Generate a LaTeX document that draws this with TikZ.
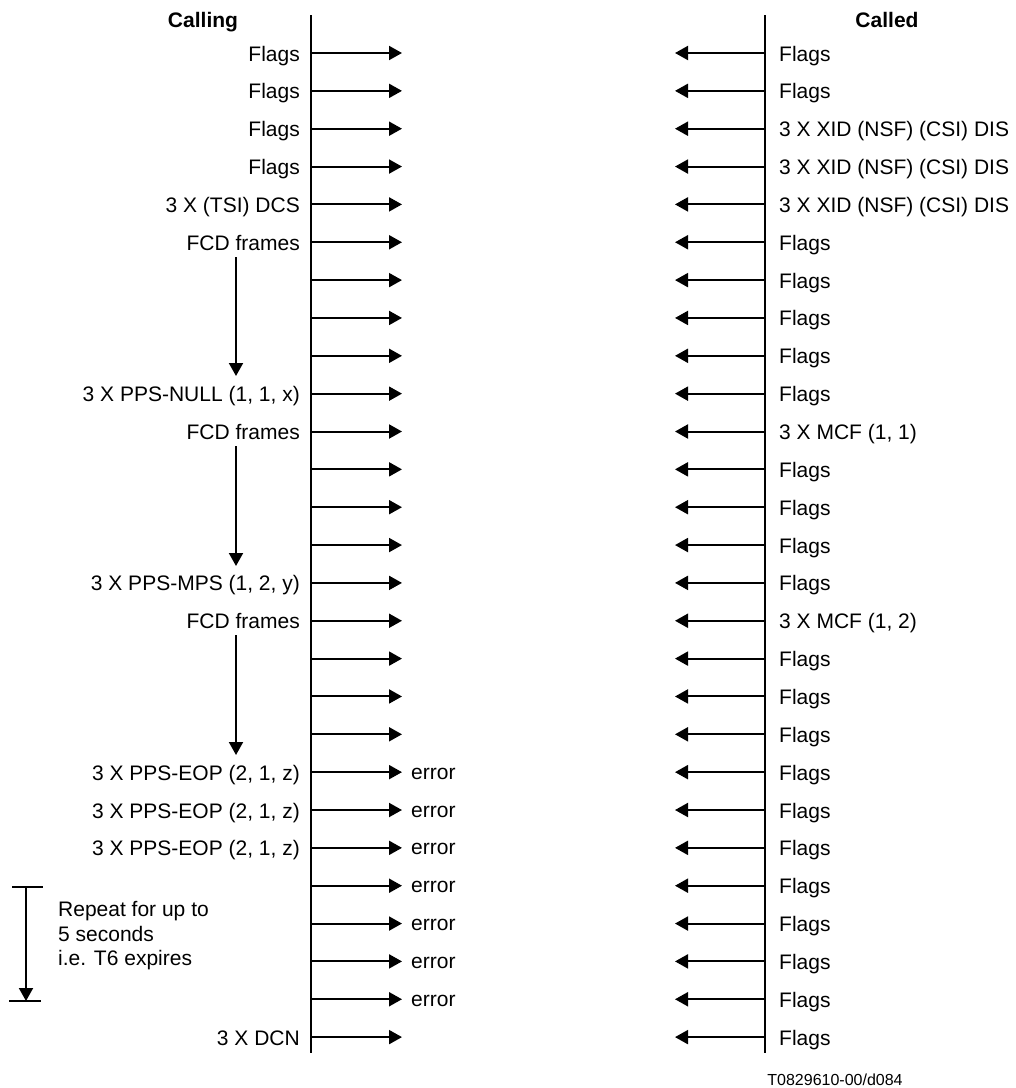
\documentclass[tikz,border=0pt]{standalone}
\usepackage{fontspec}
\setmainfont{Liberation Sans}
\usetikzlibrary{arrows.meta}
\begin{document}
\begin{tikzpicture}[x=1pt,y=-1pt,
  lifeline/.style={line width=2pt},
  msg/.style={line width=2pt,-{Triangle[length=13pt,width=14pt]}},
  bar/.style={line width=2pt},
  lab/.style={font=\fontsize{21}{25}\selectfont, inner sep=0pt},
  head/.style={font=\fontsize{21}{25}\selectfont\bfseries, inner sep=0pt, anchor=base},
  llab/.style={lab, anchor=base east, xshift=-11pt, yshift=-8pt},
  rlab/.style={lab, anchor=base west, xshift=14pt, yshift=-8pt},
  elab/.style={lab, anchor=base west, xshift=9pt, yshift=-7pt}]
\useasboundingbox (0,0) rectangle (1016,1088);

% headers
\node[head] (calling) at (203,27) {Calling};
\node[head] (called) at (887,27) {Called};

% lifelines
\coordinate (Ltop) at (311,15);
\coordinate (Lbot) at (311,1053);
\coordinate (Rtop) at (765,15);
\coordinate (Rbot) at (765,1053);
\draw[lifeline] (Ltop) -- (Lbot);
\draw[lifeline] (Rtop) -- (Rbot);

% message rows
\foreach \i in {1,...,27} {
  \pgfmathsetmacro\yy{53+(\i-1)*37.85}
  \coordinate (ls\i) at (311,\yy);
  \coordinate (le\i) at (402,\yy);
  \coordinate (rs\i) at (765,\yy);
  \coordinate (re\i) at (675,\yy);
  \draw[msg] (ls\i) -- (le\i);
  \draw[msg] (rs\i) -- (re\i);
}

% left labels
\foreach \i/\t in {1/Flags,2/Flags,3/Flags,4/Flags,5/{3 X (TSI) DCS},6/{FCD frames},
  10/{3 X PPS-NULL (1, 1, x)},11/{FCD frames},15/{3 X PPS-MPS (1, 2, y)},16/{FCD frames},
  20/{3 X PPS-EOP (2, 1, z)},21/{3 X PPS-EOP (2, 1, z)},22/{3 X PPS-EOP (2, 1, z)},27/{3 X DCN}}
  \node[llab] (lt\i) at (ls\i) {\t};

% error labels
\foreach \i in {20,...,26}
  \node[elab] (er\i) at (le\i) {error};

% right labels
\foreach \i/\t in {1/Flags,2/Flags,3/{3 X XID (NSF) (CSI) DIS},4/{3 X XID (NSF) (CSI) DIS},
  5/{3 X XID (NSF) (CSI) DIS},6/Flags,7/Flags,8/Flags,9/Flags,10/Flags,11/{3 X MCF (1, 1)},
  12/Flags,13/Flags,14/Flags,15/Flags,16/{3 X MCF (1, 2)},17/Flags,18/Flags,19/Flags,20/Flags,
  21/Flags,22/Flags,23/Flags,24/Flags,25/Flags,26/Flags,27/Flags}
  \node[rlab] (rt\i) at (rs\i) {\t};

% vertical progress arrows
\coordinate (v1s) at (236,257);
\coordinate (v1e) at (236,376);
\coordinate (v2s) at (236,446);
\coordinate (v2e) at (236,566);
\coordinate (v3s) at (236,635);
\coordinate (v3e) at (236,755);
\draw[msg] (v1s) -- (v1e);
\draw[msg] (v2s) -- (v2e);
\draw[msg] (v3s) -- (v3e);

% repeat bracket
\coordinate (bt1) at (12,887);
\coordinate (bt2) at (43,887);
\coordinate (bb1) at (9,1001);
\coordinate (bb2) at (41,1001);
\coordinate (bvs) at (26,887);
\coordinate (bve) at (26,1001);
\draw[bar] (bt1) -- (bt2);
\draw[bar] (bb1) -- (bb2);
\draw[msg] (bvs) -- (bve);
\node[lab, anchor=north west, align=left, font=\fontsize{21}{24.5}\selectfont] (rep) at (58,901.5)
  {Repeat for up to\\5 seconds\\i.e. T6 expires};

% footer
\node[inner sep=0pt, anchor=base, font=\fontsize{16}{19}\selectfont] (ref) at (835,1085) {T0829610-00/d084};
\end{tikzpicture}
\end{document}
